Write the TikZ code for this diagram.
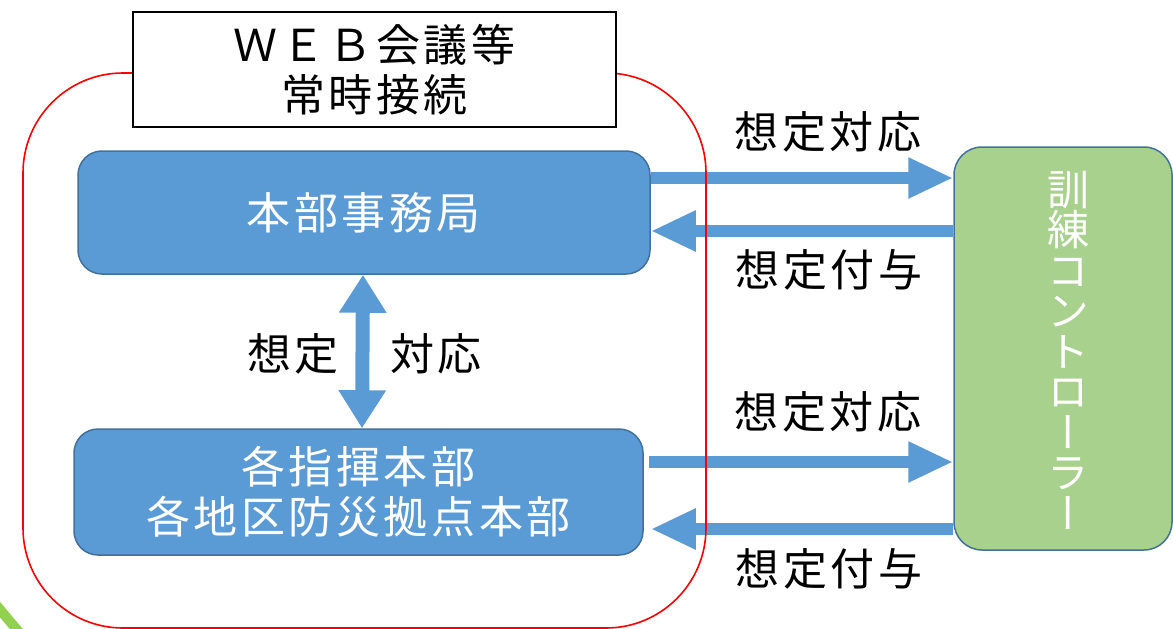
\documentclass[tikz,border=0pt]{standalone}
\usepackage{fontspec}
\usetikzlibrary{arrows.meta}
\newfontfamily\jp[LetterSpace=8]{Noto Sans CJK JP}
\newfontfamily\jpv[RawFeature=+vert]{Noto Sans CJK JP}
\definecolor{boxblue}{HTML}{5B9BD5}
\definecolor{edgeblue}{HTML}{41719C}
\definecolor{ctrlgreen}{HTML}{A9D18E}
\definecolor{arcgreen}{HTML}{92D050}
\tikzset{
  bluebox/.style={draw=edgeblue, line width=1.5pt, fill=boxblue, rounded corners=24pt,
    text=white, align=center, inner sep=0pt, font=\jp\fontsize{44}{50}\selectfont},
  ctrlbox/.style={draw=edgeblue, line width=1.5pt, fill=ctrlgreen, rounded corners=28pt, inner sep=0pt},
  titlebox/.style={draw=black, line width=2.5pt, fill=white, align=center, inner sep=0pt,
    font=\jp\fontsize{44}{50}\selectfont},
  lbl/.style={inner sep=0pt, font=\jp\fontsize{44}{50}\selectfont},
  flowarrow/.style={draw=boxblue, line width=12pt, -{Triangle[length=45pt,width=38pt]}},
  bothway/.style={draw=boxblue, line width=14pt, {Triangle[length=38pt,width=45pt]}-{Triangle[length=38pt,width=45pt]}},
}
\begin{document}
\begin{tikzpicture}[x=1pt,y=-1pt]
\useasboundingbox (0,0) rectangle (1173,629);
% green arc at the lower left
\draw[arcgreen, line width=10pt] (-8,600) .. controls (2,612) and (12,624) .. (24,638);
% nodes
\node[bluebox, minimum width=572pt, minimum height=123pt] (hq) at (364,212.5) {本部事務局};
\node[bluebox, minimum width=569pt, minimum height=126pt] (local) at (358.5,492) {各指揮本部\\各地区防災拠点本部};
\node[ctrlbox, minimum width=218pt, minimum height=403pt] (ctrl) at (1063,348.5) {};
\node[inner sep=0pt, text=white, align=center, font=\jpv\fontsize{42}{40.5}\selectfont] (ctrltext) at (1068,350)
  {訓\\練\\コ\\ン\\ト\\ロ\\ー\\ラ\\ー};
% arrows
\draw[flowarrow] ([yshift=34.5pt]hq.east) -- ([yshift=170.5pt]ctrl.west);
\draw[flowarrow] ([yshift=117.5pt]ctrl.west) -- ([yshift=-18.5pt]hq.east);
\draw[flowarrow] ([xshift=5pt,yshift=30pt]local.east) -- ([yshift=-113.5pt]ctrl.west);
\draw[flowarrow] ([yshift=-180.5pt]ctrl.west) -- ([xshift=7pt,yshift=-37pt]local.east);
\draw[bothway] ([xshift=-1pt]hq.south) -- ([xshift=3.5pt]local.north);
% red frame
\draw[red, line width=1.6pt, rounded corners=100pt] (23,73) rectangle (706,628);
\node[titlebox, minimum width=483pt, minimum height=115pt] (title) at (374.5,69.5) {ＷＥＢ会議等\\常時接続};
% labels
\node[lbl] (l1) at (828,132) {想定対応};
\node[lbl] (l2) at (829,270) {想定付与};
\node[lbl] (l3) at (828,412) {想定対応};
\node[lbl] (l4) at (829,569) {想定付与};
\node[lbl] (l5) at (293,354) {想定};
\node[lbl] (l6) at (436,354) {対応};
\end{tikzpicture}
\end{document}
